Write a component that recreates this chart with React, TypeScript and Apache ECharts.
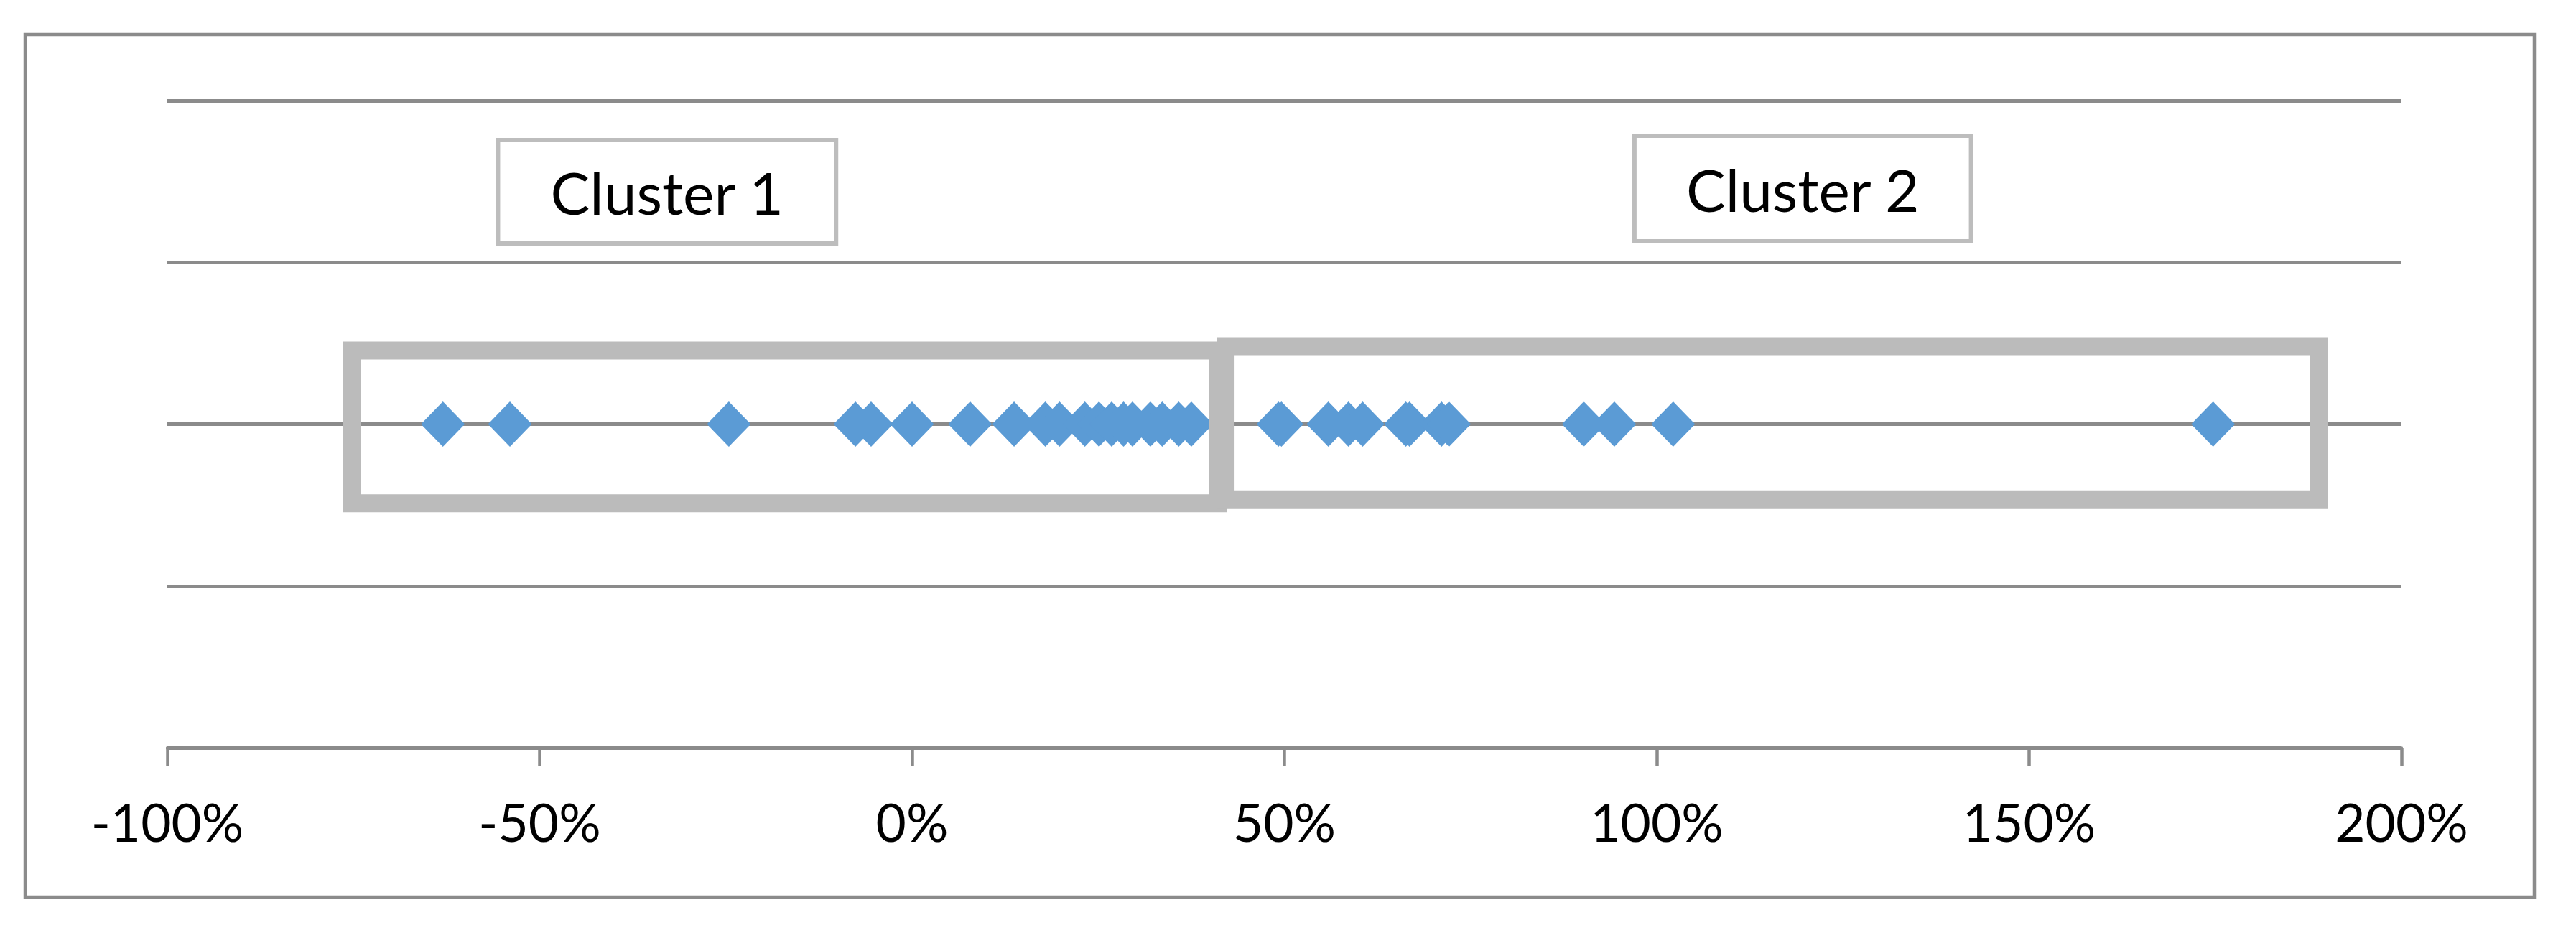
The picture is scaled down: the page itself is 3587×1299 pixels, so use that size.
import React, { useEffect, useRef } from "react";
import * as echarts from "echarts";

// Data (x values in percent, all points sit on one row)
const cluster1Values = [-63.0, -54.0, -24.6, -7.6, -5.5, 0.0, 7.8, 13.7, 17.9, 19.8, 23.2, 25.1, 26.8, 28.4, 29.6, 32.0, 33.6, 35.8, 37.5];
const cluster2Values = [49.2, 49.6, 55.9, 58.6, 60.5, 66.3, 66.8, 71.1, 72.1, 90.2, 94.3, 102.2, 174.7];
const rowLevel = 2;

const clusterNames = ["Cluster 1", "Cluster 2"];
// cluster enclosures in data units: [xFrom, xTo], [yFrom, yTo]
const clusterXRanges = [[-75.2, 41.1], [42.1, 188.9]];
const clusterYRanges = [[1.51, 2.455], [1.535, 2.482]];
// label boxes in data units
const labelXRanges = [[-55.6, -10.2], [97.0, 142.2]];
const labelYRanges = [[3.117, 3.756], [3.13, 3.782]];

const xMin = -100;
const xMax = 200;
const xStep = 50;
const yMin = 0;
const yMax = 4;
const yStep = 1;

const LINE = "#8B8B8B";
const FONT = "Lato, 'Open Sans', sans-serif";

function buildMarkArea(i: number) {
  return {
    silent: true,
    z: 5,
    data: [
      [
        {
          name: "",
          coord: [clusterXRanges[i][0], clusterYRanges[i][1]],
          itemStyle: { color: "rgba(0,0,0,0)", borderColor: "#BBBBBB", borderWidth: 25, opacity: 1 },
          label: { show: false },
        },
        { coord: [clusterXRanges[i][1], clusterYRanges[i][0]] },
      ],
      [
        {
          name: clusterNames[i],
          coord: [labelXRanges[i][0], labelYRanges[i][1]],
          itemStyle: { color: "#FFFFFF", borderColor: "#BDBDBD", borderWidth: 6, opacity: 1 },
          label: {
            show: true,
            position: "inside",
            formatter: clusterNames[i],
            fontSize: 82,
            fontFamily: FONT,
            color: "#000000",
          },
        },
        { coord: [labelXRanges[i][1], labelYRanges[i][0]] },
      ],
    ],
  };
}

export default function App() {
  const ref = useRef<HTMLDivElement>(null);

  useEffect(() => {
    if (!ref.current) return;
    const chart = echarts.init(ref.current, null, { renderer: "svg" });
    const makeSeries = (vals: number[], i: number) => ({
      type: "scatter",
      name: clusterNames[i],
      data: vals.map((v) => [v, rowLevel]),
      symbol: "diamond",
      symbolSize: [61, 63],
      itemStyle: { color: "#5B9BD5", opacity: 1 },
      z: 2,
      silent: true,
      markArea: buildMarkArea(i),
    });
    chart.setOption({
      animation: false,
      backgroundColor: "#FFFFFF",
      grid: { left: 233, right: 243, top: 140, bottom: 258, containLabel: false, outerBoundsMode: "none" },
      xAxis: {
        type: "value",
        min: xMin,
        max: xMax,
        interval: xStep,
        axisLine: { show: true, onZero: false, lineStyle: { color: LINE, width: 4.5 } },
        axisTick: { show: true, length: 26, lineStyle: { color: LINE, width: 4.5 } },
        axisLabel: {
          fontSize: 73,
          fontFamily: FONT,
          color: "#000000",
          margin: 66,
          formatter: (v: number) => `${v}%`,
        },
        splitLine: { show: false },
      },
      yAxis: {
        type: "value",
        min: yMin,
        max: yMax,
        interval: yStep,
        axisLine: { show: false },
        axisTick: { show: false },
        axisLabel: { show: false },
        splitLine: { show: true, lineStyle: { color: LINE, width: 5 } },
      },
      graphic: [
        {
          type: "rect",
          shape: { x: 35, y: 48, width: 3494, height: 1201 },
          style: { fill: "none", stroke: LINE, lineWidth: 4.5 },
          silent: true,
        },
      ],
      series: [makeSeries(cluster1Values, 0), makeSeries(cluster2Values, 1)],
    });
    return () => chart.dispose();
  }, []);

  return (
    <div
      ref={ref}
      style={{ position: "fixed", left: 0, top: 0, width: "3587px", height: "1299px", background: "#fff" }}
    />
  );
}
